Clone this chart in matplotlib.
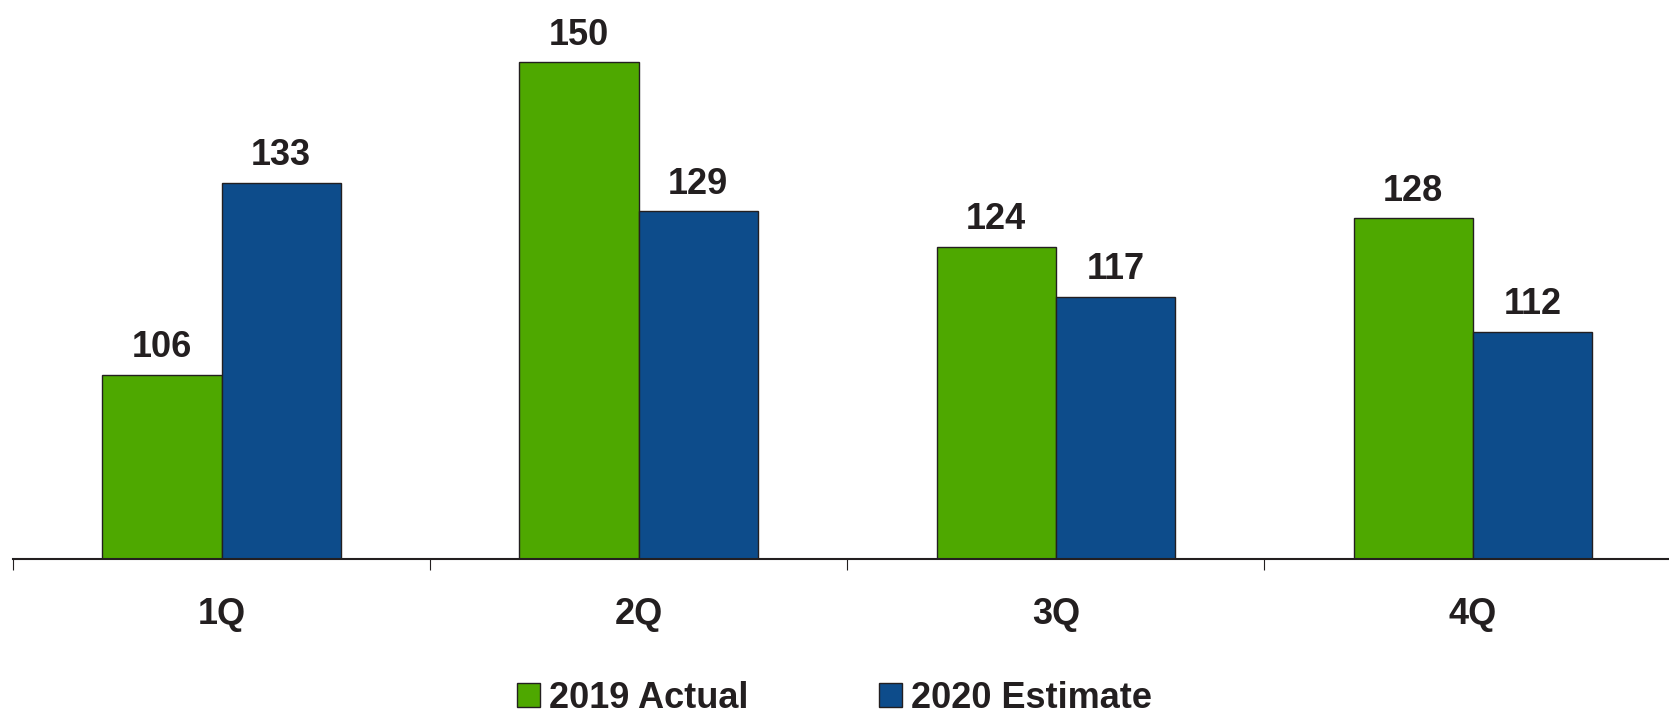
import numpy as np
import matplotlib
matplotlib.use("Agg")
import matplotlib.pyplot as plt

# данні з графіка
quarters = ["1Q", "2Q", "3Q", "4Q"]
actual_2019 = [106, 150, 124, 128]
estimate_2020 = [133, 129, 117, 112]
series_names = ["2019 Actual", "2020 Estimate"]

green = "#4EA800"
blue = "#0D4C8B"
dark = "#231F20"

plt.rcParams["font.family"] = ["Liberation Sans Narrow", "Liberation Sans", "DejaVu Sans"]
plt.rcParams["font.weight"] = "bold"

fig = plt.figure(figsize=(16.69, 7.18), dpi=100)
ax = fig.add_axes([13 / 1669, 159 / 718, 1 - 13 / 1669, 559 / 718])

x = np.arange(len(quarters))
w = 0.286
b1 = ax.bar(x - w / 2, actual_2019, w, color=green, edgecolor=dark, linewidth=1.0, label=series_names[0])
b2 = ax.bar(x + w / 2, estimate_2020, w, color=blue, edgecolor=dark, linewidth=1.0, label=series_names[1])

for bars in (b1, b2):
    ax.bar_label(bars, padding=7, fontsize=26, fontweight="bold", color=dark)

ax.set_ylim(80, 158.8)
ax.set_xlim(-0.5, 3.47)

for s in ("top", "right", "left"):
    ax.spines[s].set_visible(False)
ax.spines["bottom"].set_color(dark)
ax.spines["bottom"].set_linewidth(1.5)
ax.set_yticks([])

ax.set_xticks(x)
ax.set_xticklabels(quarters, fontsize=26, fontweight="bold", color=dark)
ax.tick_params(axis="x", which="major", length=0, pad=27)
ax.set_xticks(np.arange(-0.5, 3.5, 1), minor=True)
ax.tick_params(axis="x", which="minor", length=8, width=0.8, color=dark, direction="out")

leg = fig.legend(handles=[b1, b2], labels=series_names, loc="center", ncol=2,
                 bbox_to_anchor=(0.5, 1 - 698 / 718), frameon=False,
                 fontsize=26, handlelength=0.65, handleheight=0.65,
                 handletextpad=0.25, columnspacing=3.6, borderpad=0.1)
for t in leg.get_texts():
    t.set_color(dark)
    t.set_fontweight("bold")

fig.savefig("out.png", dpi=100)
